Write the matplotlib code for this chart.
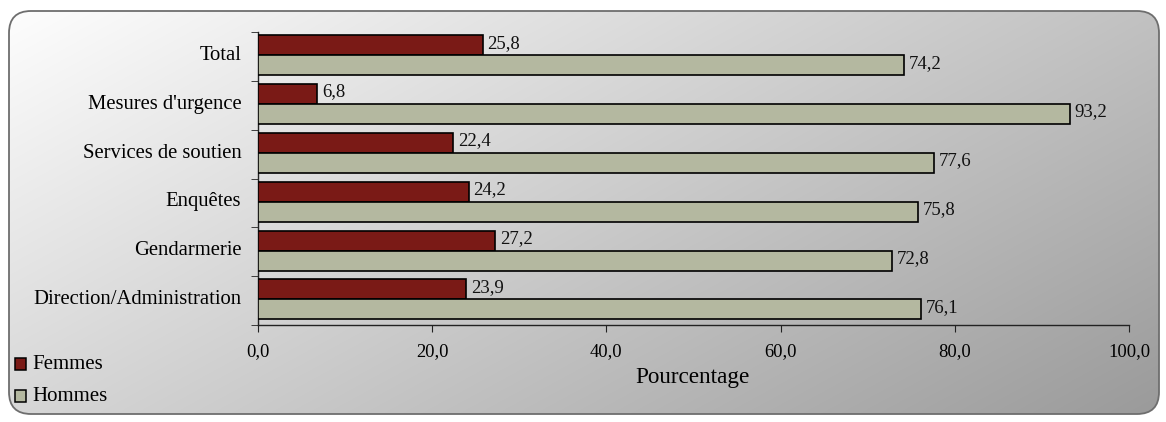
import numpy as np
import matplotlib
matplotlib.use("Agg")
import matplotlib.pyplot as plt
from matplotlib.patches import FancyBboxPatch, Rectangle

categories = ["Total", "Mesures d'urgence", "Services de soutien", "Enquêtes",
              "Gendarmerie", "Direction/Administration"]
femmes = [25.8, 6.8, 22.4, 24.2, 27.2, 23.9]
hommes = [74.2, 93.2, 77.6, 75.8, 72.8, 76.1]
xticks = [0, 20, 40, 60, 80, 100]
xticklabels = ["0,0", "20,0", "40,0", "60,0", "80,0", "100,0"]

RED = "#7A1A16"
GREEN = "#B4B8A0"
SERIF = ["Liberation Serif", "DejaVu Serif"]
plt.rcParams["font.family"] = SERIF

W, H = 1166, 422
fig = plt.figure(figsize=(W / 100, H / 100), dpi=100)
fig.patch.set_facecolor("white")

# background gradient in rounded frame
bg = fig.add_axes([0, 0, 1, 1])
bg.set_xlim(0, W)
bg.set_ylim(H, 0)
bg.axis("off")
yy, xx = np.mgrid[0:H, 0:W]
t = (xx / W) * 0.6 + (yy / H) * 0.4
t = np.clip(t, 0, 1)
g = 1.0 - 0.40 * t
img = np.dstack([g, g, g])
im = bg.imshow(img, extent=[0, W, H, 0], aspect="auto", zorder=0)
frame = FancyBboxPatch((9, 11), 1150, 403, boxstyle="round,pad=0,rounding_size=22",
                       facecolor="none", edgecolor="#6e6e6e", linewidth=1.3, zorder=2)
bg.add_patch(frame)
im.set_clip_path(frame)

ax = fig.add_axes([258 / W, 1 - 325 / H, (1129 - 258) / W, (325 - 32) / H])
ax.patch.set_alpha(0)
n = len(categories)
y = np.arange(n)
h = 0.41
off = -0.025
ax.barh(y - h / 2 + off, femmes, height=h, color=RED, edgecolor="black", linewidth=1.2, zorder=3)
ax.barh(y + h / 2 + off, hommes, height=h, color=GREEN, edgecolor="black", linewidth=1.2, zorder=3)
for i in range(n):
    ax.text(femmes[i] + 0.55, y[i] - h / 2 + off - 0.04, f"{femmes[i]:.1f}".replace(".", ","),
            va="center", ha="left", fontsize=13.5, color="#111111")
    ax.text(hommes[i] + 0.55, y[i] + h / 2 + off - 0.04, f"{hommes[i]:.1f}".replace(".", ","),
            va="center", ha="left", fontsize=13.5, color="#111111")

ax.set_ylim(n - 0.5, -0.5)
ax.set_xlim(0, 100)
ax.set_yticks(y - 0.07)
ax.set_yticklabels(categories, fontsize=14.9)
ax.set_yticks(np.arange(n + 1) - 0.5, minor=True)
ax.tick_params(axis="y", which="major", length=0, pad=12)
ax.tick_params(axis="y", which="minor", length=5, direction="out", color="#222222")
ax.set_xticks(xticks)
ax.set_xticklabels(xticklabels, fontsize=13.3)
ax.tick_params(axis="x", length=5, direction="out", pad=8, color="#222222")
for s in ["top", "right"]:
    ax.spines[s].set_visible(False)
for s in ["left", "bottom"]:
    ax.spines[s].set_color("#222222")
    ax.spines[s].set_linewidth(1.0)

bg.text(693, 383, "Pourcentage", fontsize=16.7, va="baseline", ha="center")

# legend
bg.add_patch(Rectangle((15, 358), 11, 12, facecolor=RED, edgecolor="black", linewidth=1.1, zorder=3))
bg.add_patch(Rectangle((15, 390), 11, 12, facecolor=GREEN, edgecolor="black", linewidth=1.1, zorder=3))
bg.text(32, 369, "Femmes", fontsize=15, va="baseline", ha="left")
bg.text(32, 401, "Hommes", fontsize=15, va="baseline", ha="left")

fig.savefig("out.png", dpi=100)
